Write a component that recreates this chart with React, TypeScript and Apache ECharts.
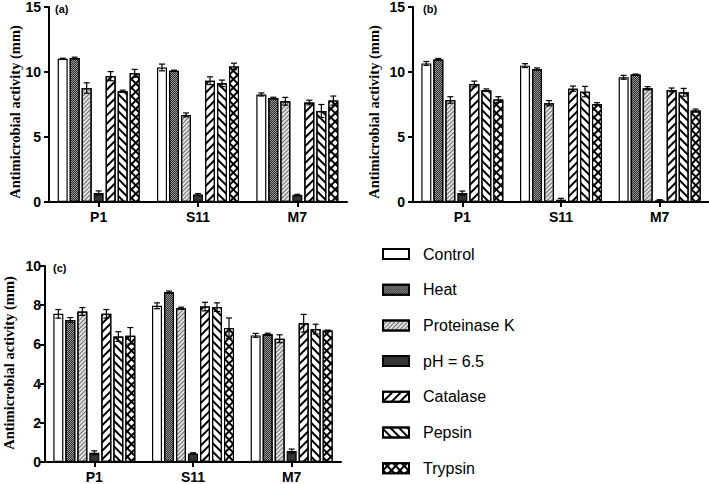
import React, { useEffect, useRef } from 'react';
import * as echarts from 'echarts';

const categories = ['P1', 'S11', 'M7'];
const treatments = ['Control', 'Heat', 'Proteinase K', 'pH = 6.5', 'Catalase', 'Pepsin', 'Trypsin'];

// Panel (a): means and SD per category, in treatment order
const A_P1 = [11.02, 11.07, 8.77, 0.7, 9.68, 8.52, 9.9];
const A_P1_sd = [0.04, 0.07, 0.4, 0.15, 0.35, 0.08, 0.3];
const A_S11 = [10.35, 10.1, 6.7, 0.58, 9.33, 9.13, 10.43];
const A_S11_sd = [0.26, 0.04, 0.15, 0.07, 0.3, 0.25, 0.25];
const A_M7 = [8.27, 8.0, 7.75, 0.54, 7.65, 7.0, 7.8];
const A_M7_sd = [0.12, 0.06, 0.3, 0.05, 0.18, 0.5, 0.35];

// Panel (b)
const B_P1 = [10.66, 10.97, 7.85, 0.69, 9.08, 8.6, 7.88];
const B_P1_sd = [0.15, 0.07, 0.25, 0.15, 0.22, 0.1, 0.22];
const B_S11 = [10.49, 10.23, 7.6, 0.18, 8.72, 8.49, 7.54];
const B_S11_sd = [0.15, 0.08, 0.2, 0.1, 0.2, 0.4, 0.1];
const B_M7 = [9.59, 9.8, 8.75, 0.13, 8.62, 8.44, 7.03];
const B_M7_sd = [0.15, 0.04, 0.12, 0.05, 0.15, 0.3, 0.12];

// Panel (c)
const C_P1 = [7.56, 7.25, 7.68, 0.47, 7.56, 6.4, 6.44];
const C_P1_sd = [0.22, 0.12, 0.2, 0.1, 0.22, 0.25, 0.42];
const C_S11 = [7.97, 8.66, 7.85, 0.44, 7.93, 7.9, 6.83];
const C_S11_sd = [0.15, 0.06, 0.05, 0.03, 0.22, 0.22, 0.52];
const C_M7 = [6.46, 6.52, 6.29, 0.56, 7.08, 6.78, 6.71];
const C_M7_sd = [0.1, 0.05, 0.2, 0.1, 0.45, 0.25, 0.02];

const yTicksAB = [0, 5, 10, 15];
const yTicksC = [0, 2, 4, 6, 8, 10];

const panels = [
  { label: '(a)', means: [A_P1, A_S11, A_M7], sds: [A_P1_sd, A_S11_sd, A_M7_sd], ticks: yTicksAB },
  { label: '(b)', means: [B_P1, B_S11, B_M7], sds: [B_P1_sd, B_S11_sd, B_M7_sd], ticks: yTicksAB },
  { label: '(c)', means: [C_P1, C_S11, C_M7], sds: [C_P1_sd, C_S11_sd, C_M7_sd], ticks: yTicksC },
];

const BAR_W = 10;
const BAR_STEP = 12;

const treatmentStyles: any[] = [
  { color: '#ffffff' },
  {
    color: '#9a9a9a',
    decal: { symbol: 'rect', symbolSize: 1, color: '#2a2a2a', dashArrayX: [[1, 1], [0, 1, 1, 0]], dashArrayY: [1, 0] },
  },
  {
    color: '#e2e2e2',
    decal: { symbol: 'rect', symbolSize: 1, color: '#6e6e6e', dashArrayX: [1, 0], dashArrayY: [1, 1.6], rotation: -Math.PI / 4 },
  },
  { color: '#333333' },
  {
    color: '#ffffff',
    decal: { symbol: 'rect', symbolSize: 1, color: '#000000', dashArrayX: [1, 0], dashArrayY: [1.6, 3.6], rotation: -Math.PI / 4 },
  },
  {
    color: '#ffffff',
    decal: { symbol: 'rect', symbolSize: 1, color: '#000000', dashArrayX: [1, 0], dashArrayY: [1.6, 3.6], rotation: Math.PI / 4 },
  },
  {
    color: '#000000',
    decal: { symbol: 'rect', symbolSize: 1, color: '#ffffff', dashArrayX: [3.6, 1.4], dashArrayY: [3.6, 1.4], rotation: Math.PI / 4 },
  },
];

const gridsPos = [
  { left: 49, top: 7, width: 298, height: 195 },
  { left: 413, top: 7, width: 296, height: 195 },
  { left: 45, top: 266, width: 296, height: 197 },
];

const axisFont = { fontFamily: 'Liberation Sans, Arial, sans-serif', fontWeight: 'bold' as const, color: '#000' };

function buildOption() {
  const grid = gridsPos.map((g) => ({ ...g, containLabel: false }));
  const xAxis = panels.map((_, pi) => ({
    type: 'category',
    gridIndex: pi,
    data: categories,
    axisLine: { show: true, lineStyle: { color: '#000', width: 2 } },
    axisTick: { show: true, alignWithLabel: true, length: 5, lineStyle: { color: '#000', width: 2 } },
    axisLabel: { ...axisFont, fontSize: 14, margin: 8 },
    splitLine: { show: false },
  }));
  const yAxis = panels.map((p, pi) => {
    const tk = p.ticks;
    return {
      type: 'value',
      gridIndex: pi,
      min: tk[0],
      max: tk[tk.length - 1],
      interval: tk[1] - tk[0],
      axisLine: { show: true, lineStyle: { color: '#000', width: 2 } },
      axisTick: { show: true, length: 5, lineStyle: { color: '#000', width: 2 } },
      axisLabel: { ...axisFont, fontSize: 14, margin: pi === 2 ? 4 : 8 },
      splitLine: { show: false },
    };
  });

  const series: any[] = [];
  panels.forEach((p, pi) => {
    treatments.forEach((t, ti) => {
      series.push({
        type: 'bar',
        name: t,
        xAxisIndex: pi,
        yAxisIndex: pi,
        barWidth: BAR_W,
        barGap: '20%',
        data: categories.map((_, ci) => p.means[ci][ti]),
        itemStyle: { ...treatmentStyles[ti], borderColor: '#000', borderWidth: 1.2 },
        emphasis: { disabled: true },
      });
    });
    const errData: number[][] = [];
    categories.forEach((_, ci) => {
      treatments.forEach((_, ti) => {
        errData.push([ci, p.means[ci][ti], p.sds[ci][ti], ti]);
      });
    });
    series.push({
      type: 'custom',
      name: 'err' + pi,
      xAxisIndex: pi,
      yAxisIndex: pi,
      z: 10,
      data: errData,
      encode: { x: 0, y: 1 },
      renderItem: (params: any, api: any) => {
        const ci = api.value(0);
        const m = api.value(1);
        const sd = api.value(2);
        const ti = api.value(3);
        const base = api.coord([ci, m]);
        const x = base[0] + (ti - 3) * BAR_STEP;
        const yT = api.coord([ci, m + sd])[1];
        const yB = api.coord([ci, Math.max(m - sd, 0)])[1];
        const w = 3;
        const st = { stroke: '#000', lineWidth: 1.2 };
        return {
          type: 'group',
          children: [
            { type: 'line', shape: { x1: x, y1: yT, x2: x, y2: yB }, style: st },
            { type: 'line', shape: { x1: x - w, y1: yT, x2: x + w, y2: yT }, style: st },
            { type: 'line', shape: { x1: x - w, y1: yB, x2: x + w, y2: yB }, style: st },
          ],
        };
      },
    });
  });

  const yNameStyle = {
    fontFamily: 'Liberation Serif, Times New Roman, serif',
    fontWeight: 'bold',
    fontSize: 14.5,
    fill: '#000',
    textAlign: 'center',
    textVerticalAlign: 'middle',
  };
  const panelLabelStyle = {
    fontFamily: 'Liberation Sans, Arial, sans-serif',
    fontWeight: 'bold',
    fontSize: 11,
    fill: '#000',
    textVerticalAlign: 'middle',
  };

  const graphic = [
    { type: 'text', x: 15, y: 112, rotation: Math.PI / 2, style: { ...yNameStyle, text: 'Antimicrobial activity (mm)' } },
    { type: 'text', x: 374, y: 112, rotation: Math.PI / 2, style: { ...yNameStyle, text: 'Antimicrobial activity (mm)' } },
    { type: 'text', x: 9, y: 363, rotation: Math.PI / 2, style: { ...yNameStyle, text: 'Antimicrobial activity (mm)' } },
    { type: 'text', x: 55, y: 9, style: { ...panelLabelStyle, text: panels[0].label } },
    { type: 'text', x: 423, y: 9, style: { ...panelLabelStyle, text: panels[1].label } },
    { type: 'text', x: 53, y: 268, style: { ...panelLabelStyle, text: panels[2].label } },
  ];

  return {
    animation: false,
    backgroundColor: '#fff',
    grid,
    xAxis,
    yAxis,
    legend: {
      data: treatments,
      orient: 'vertical',
      left: 382,
      top: 246,
      padding: 0,
      height: 238,
      itemWidth: 26,
      itemHeight: 10,
      itemGap: 19.7,
      icon: 'rect',
      selectedMode: false,
      textStyle: {
        fontFamily: 'Liberation Sans, Arial, sans-serif',
        fontSize: 16,
        lineHeight: 16,
        color: '#000',
        padding: [0, 0, 0, 9],
      },
    },
    graphic,
    series,
  };
}

export default function App() {
  const ref = useRef<HTMLDivElement>(null);
  useEffect(() => {
    const chart = echarts.init(ref.current!, null, { renderer: 'svg' });
    chart.setOption(buildOption() as any);
    return () => chart.dispose();
  }, []);
  return <div ref={ref} style={{ position: 'absolute', left: 0, top: 0, width: 709, height: 484 }} />;
}
